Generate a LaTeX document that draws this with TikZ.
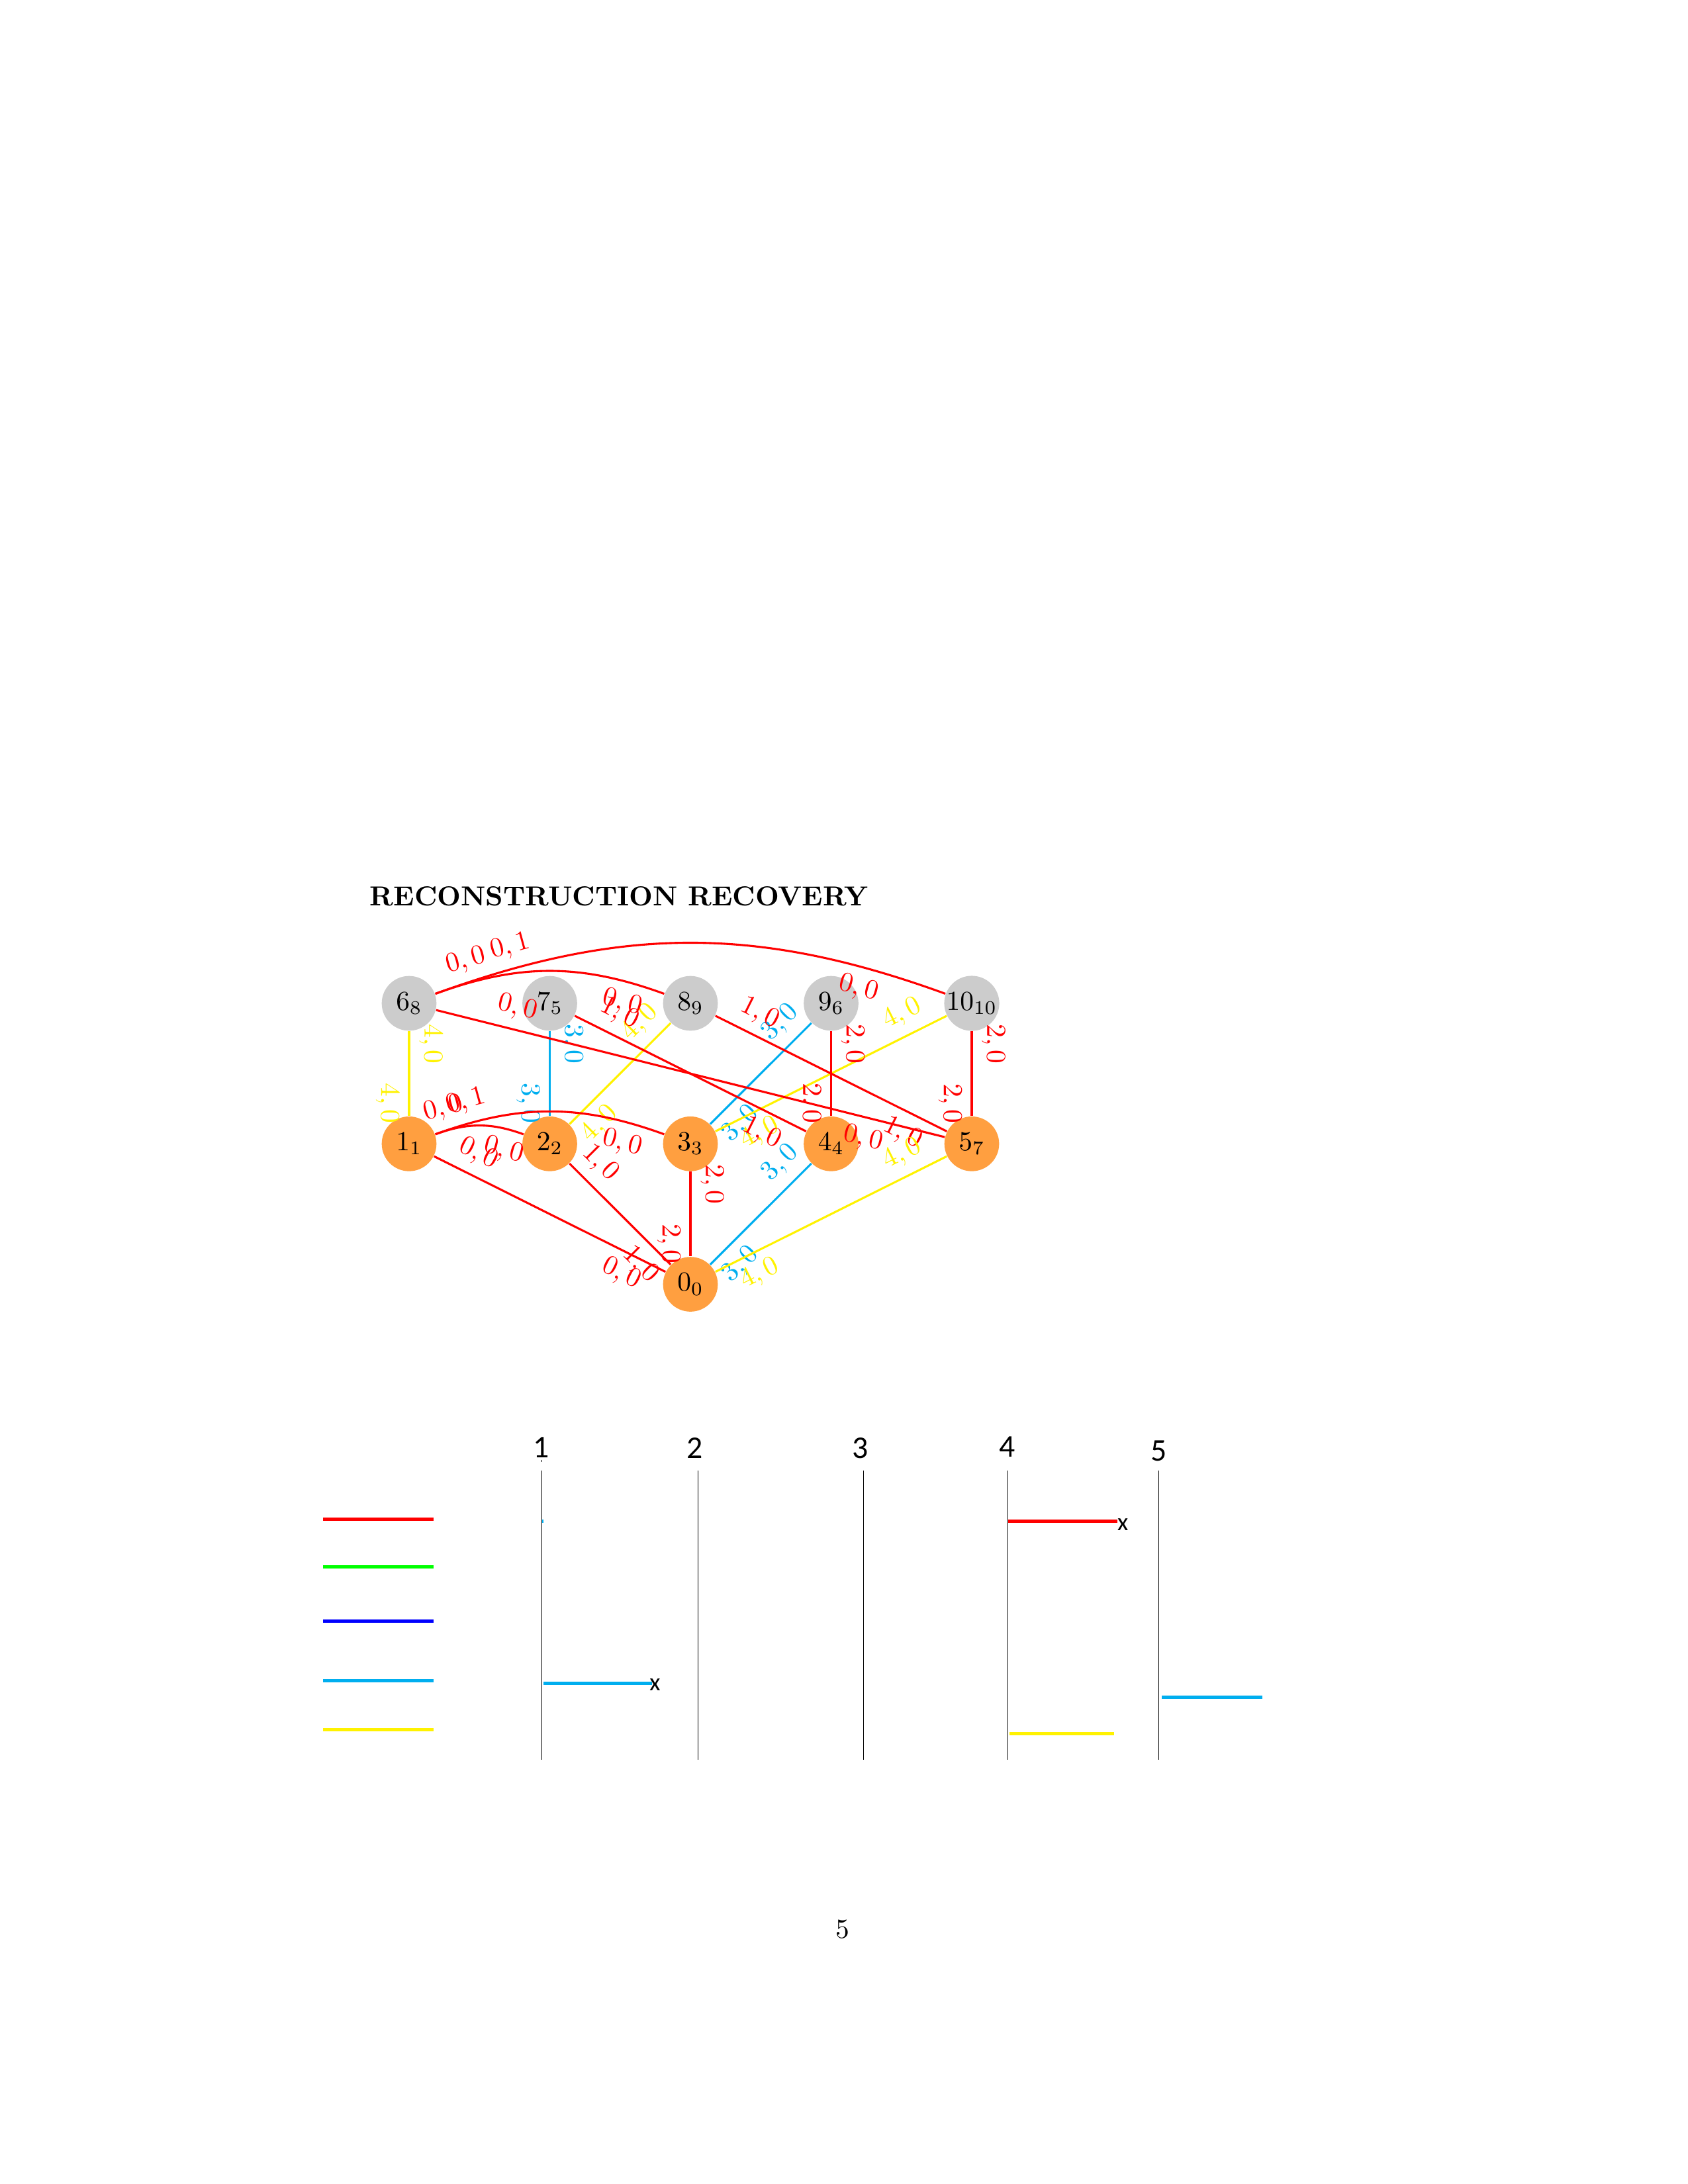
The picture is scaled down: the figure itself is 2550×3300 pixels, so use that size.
\documentclass[tikz,border=0pt]{standalone}
\usepackage{fontspec}
\newfontfamily\chartfont{Carlito}
\definecolor{mycyan}{RGB}{0,174,239}
\definecolor{myyellow}{RGB}{255,242,0}
\definecolor{mygreen}{RGB}{0,255,0}
\definecolor{myblue}{RGB}{0,0,255}
\definecolor{myred}{RGB}{255,0,0}
\definecolor{myorange}{RGB}{255,159,64}
\definecolor{mygray}{RGB}{204,204,204}
\tikzset{
  vnode/.style={circle, fill=mygray, minimum size=0.7cm, inner sep=0pt},
  onode/.style={circle, fill=myorange, minimum size=0.7cm, inner sep=0pt},
  gedge/.style={line width=0.75pt},
  lab/.style={sloped},
  startlab/.style={lab, pos=0.15, above},
  endlab/.style={lab, pos=0.85, below},
  chline/.style={line width=0.24pt, black},
  bar/.style={line width=1.2pt},
  collab/.style={font=\chartfont\fontsize{11.5}{12}\selectfont, inner sep=0pt},
  xlab/.style={font=\chartfont\fontsize{9}{10}\selectfont, inner sep=0pt},
}
\begin{document}
\begin{tikzpicture}[x=0.2409pt,y=0.2409pt]
\useasboundingbox (0,0) rectangle (2550,-3300);

% title
\node[anchor=base west, inner sep=0pt, font=\bfseries] (title) at (558,-1368) {RECONSTRUCTION RECOVERY};

% nodes
\node[vnode] (n6)  at (618,-1516)    {$6_8$};
\node[vnode] (n7)  at (830.5,-1516)  {$7_5$};
\node[vnode] (n8)  at (1043,-1516)   {$8_9$};
\node[vnode] (n9)  at (1255.5,-1516) {$9_6$};
\node[vnode] (n10) at (1468,-1516)   {$10_{10}$};
\node[onode] (n1)  at (618,-1728.3)    {$1_1$};
\node[onode] (n2)  at (830.5,-1728.3)  {$2_2$};
\node[onode] (n3)  at (1043,-1728.3)   {$3_3$};
\node[onode] (n4)  at (1255.5,-1728.3) {$4_4$};
\node[onode] (n5)  at (1468,-1728.3)   {$5_7$};
\node[onode] (n0)  at (1043,-1940.5)   {$0_0$};

% edges
\draw[gedge,myyellow] (n6) -- node[startlab]{$4,0$} node[endlab]{$4,0$} (n1);
\draw[gedge,mycyan]   (n7) -- node[startlab]{$3,0$} node[endlab]{$3,0$} (n2);
\draw[gedge,myyellow] (n8) -- node[startlab]{$4,0$} node[endlab]{$4,0$} (n2);
\draw[gedge,mycyan]   (n9) -- node[startlab]{$3,0$} node[endlab]{$3,0$} (n3);
\draw[gedge,myyellow] (n10) -- node[startlab]{$4,0$} node[endlab]{$4,0$} (n3);
\draw[gedge,myred]    (n9) -- node[startlab]{$2,0$} node[endlab]{$2,0$} (n4);
\draw[gedge,myred]    (n10) -- node[startlab]{$2,0$} node[endlab]{$2,0$} (n5);
\draw[gedge,myred]    (n6) -- node[startlab]{$0,0$} node[endlab]{$0,0$} (n5);
\draw[gedge,myred]    (n7) -- node[startlab]{$1,0$} node[endlab]{$1,0$} (n4);
\draw[gedge,myred]    (n8) -- node[startlab]{$1,0$} node[endlab]{$1,0$} (n5);
\draw[gedge,myred]    (n6) to[bend left=20] node[startlab]{$0,0$} node[endlab]{$0,0$} (n8);
\draw[gedge,myred]    (n6) to[bend left=20] node[startlab]{$0,1$} node[endlab]{$0,0$} (n10);
\draw[gedge,myred]    (n1) to[bend left=20] node[startlab]{$0,0$} node[endlab]{$0,0$} (n2);
\draw[gedge,myred]    (n1) to[bend left=20] node[startlab]{$0,1$} node[endlab]{$0,0$} (n3);
\draw[gedge,myred]    (n1) -- node[startlab]{$0,0$} node[endlab]{$0,0$} (n0);
\draw[gedge,myred]    (n2) -- node[startlab]{$1,0$} node[endlab]{$1,0$} (n0);
\draw[gedge,myred]    (n3) -- node[startlab]{$2,0$} node[endlab]{$2,0$} (n0);
\draw[gedge,mycyan]   (n4) -- node[startlab]{$3,0$} node[endlab]{$3,0$} (n0);
\draw[gedge,myyellow] (n5) -- node[startlab]{$4,0$} node[endlab]{$4,0$} (n0);

% legend
\draw[bar,myred]    (488,-2295.5) -- (655,-2295.5);
\draw[bar,mygreen]  (488,-2367.5) -- (655,-2367.5);
\draw[bar,myblue]   (488,-2449.3) -- (655,-2449.3);
\draw[bar,mycyan]   (488,-2539.5) -- (655,-2539.5);
\draw[bar,myyellow] (488,-2613.6) -- (655,-2613.6);

% chart columns
\node[collab] (c1) at (817.5,-2187.6) {1};
\node[collab] (c2) at (1050,-2187.6) {2};
\node[collab] (c3) at (1300,-2188.5) {3};
\node[collab] (c4) at (1521.5,-2186) {4};
\node[collab] (c5) at (1751,-2192) {5};
\draw[chline] (818.4,-2205.5) -- (818.4,-2208.5);
\draw[chline] (818.4,-2222) -- (818.4,-2659);
\draw[chline] (1054.5,-2222) -- (1054.5,-2659);
\draw[chline] (1304,-2222) -- (1304,-2659);
\draw[chline] (1522,-2222) -- (1522,-2659);
\draw[chline] (1750,-2222) -- (1750,-2659);

% bars
\draw[bar,mycyan] (818.8,-2298) -- (821,-2298);
\draw[bar,mycyan] (821,-2543.3) -- (985,-2543.3);
\node[xlab] (x1) at (989.5,-2546) {x};
\draw[bar,myred] (1522.6,-2298.2) -- (1688,-2298.2);
\node[xlab] (x4) at (1696.2,-2304) {x};
\draw[bar,myyellow] (1525,-2619.3) -- (1683,-2619.3);
\draw[bar,mycyan] (1755,-2564.3) -- (1907,-2564.3);

% page number
\node (pnum) at (1273,-2915) {5};
\end{tikzpicture}
\end{document}
